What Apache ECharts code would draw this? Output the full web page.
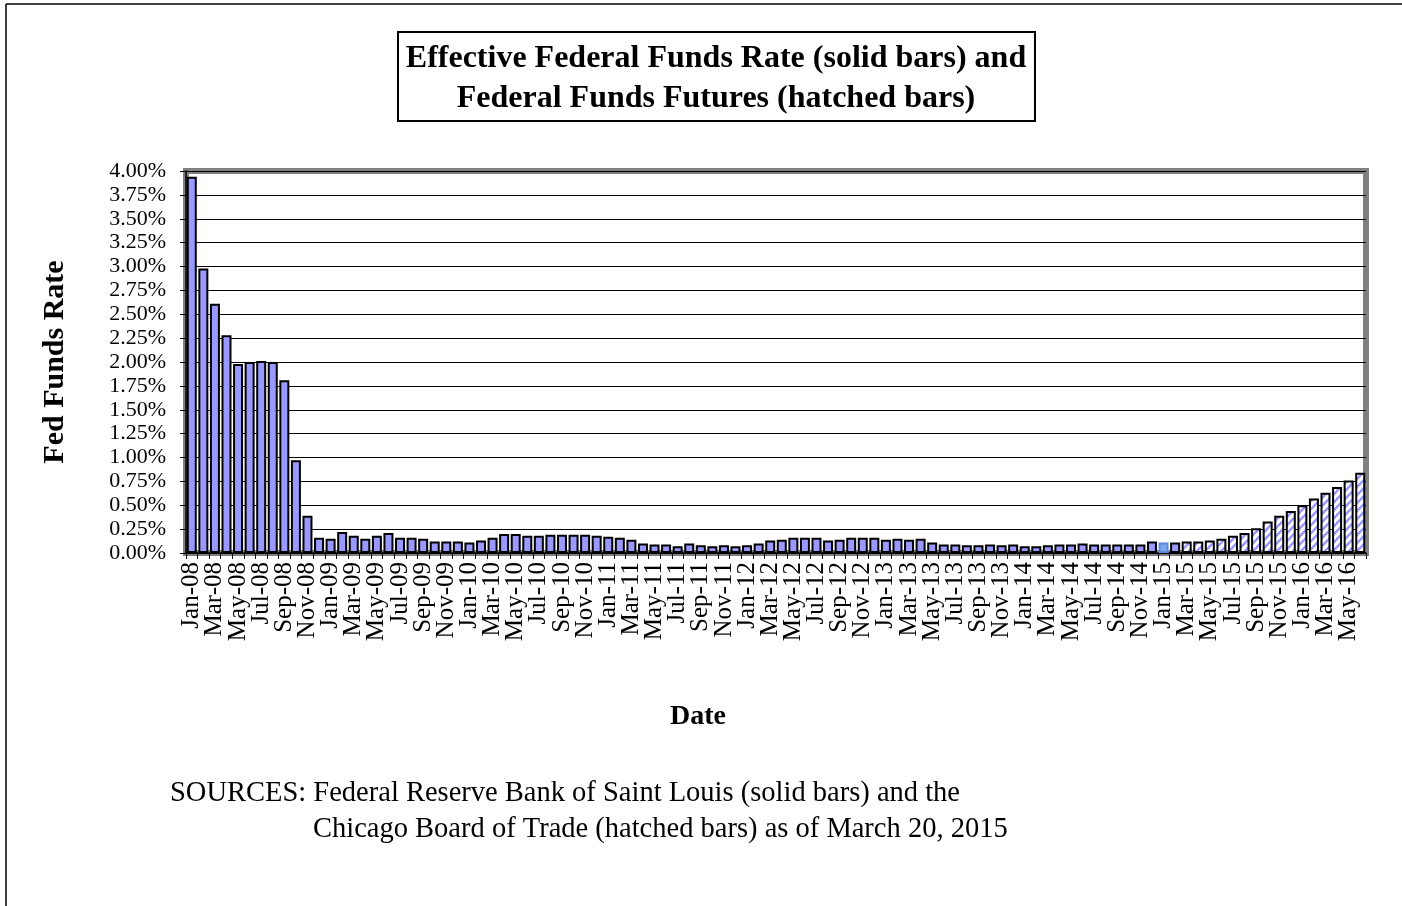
<!DOCTYPE html>
<html>
<head>
<meta charset="utf-8">
<script src="https://cdn.jsdelivr.net/npm/echarts@6/dist/echarts.min.js"></script>
<style>
html,body{margin:0;padding:0;background:#fff;}
#chart{width:1402px;height:906px;}
</style>
</head>
<body>
<div id="chart"></div>
<script>
// ---- data ----
const yearsShort = ['08','09','10','11','12','13','14','15','16'];
const monthNames = ['Jan','Feb','Mar','Apr','May','Jun','Jul','Aug','Sep','Oct','Nov','Dec'];
// Effective federal funds rate (solid bars), Jan-08 .. Feb-15, percent
const effr = [
  3.94, 2.98, 2.61, 2.28, 1.98, 2.00, 2.01, 2.00, 1.81, 0.97, 0.39, 0.16,
  0.15, 0.22, 0.18, 0.15, 0.18, 0.21, 0.16, 0.16, 0.15, 0.12, 0.12, 0.12,
  0.11, 0.13, 0.16, 0.20, 0.20, 0.18, 0.18, 0.19, 0.19, 0.19, 0.19, 0.18,
  0.17, 0.16, 0.14, 0.10, 0.09, 0.09, 0.07, 0.10, 0.08, 0.07, 0.08, 0.07,
  0.08, 0.10, 0.13, 0.14, 0.16, 0.16, 0.16, 0.13, 0.14, 0.16, 0.16, 0.16,
  0.14, 0.15, 0.14, 0.15, 0.11, 0.09, 0.09, 0.08, 0.08, 0.09, 0.08, 0.09,
  0.07, 0.07, 0.08, 0.09, 0.09, 0.10, 0.09, 0.09, 0.09, 0.09, 0.09, 0.12,
  0.11, 0.11
];
// Federal funds futures (hatched bars), Mar-15 .. Jun-16, percent
const futures = [0.12, 0.12, 0.13, 0.15, 0.18, 0.21, 0.26, 0.33, 0.39, 0.44, 0.50, 0.57, 0.63, 0.69, 0.76, 0.84];
const titleLines = ['Effective Federal Funds Rate (solid bars) and', 'Federal Funds Futures (hatched bars)'];
const xName = 'Date';
const yName = 'Fed Funds Rate';
const sourceLine1 = 'SOURCES: Federal Reserve Bank of Saint Louis (solid bars) and the';
const sourceLine2 = 'Chicago Board of Trade (hatched bars) as of March 20, 2015';

// category labels
const months = [];
for (const y of yearsShort) for (const m of monthNames) months.push(m + '-' + y);
const categories = months.slice(0, effr.length + futures.length);

// ---- styles ----
const FONT = "'Liberation Serif', 'Times New Roman', serif";
const BAR = '#9999FF';

const P = 8;
const pc = document.createElement('canvas');
pc.width = P; pc.height = P;
const pctx = pc.getContext('2d');
pctx.fillStyle = BAR; pctx.fillRect(0, 0, P, P);
pctx.strokeStyle = '#ffffff'; pctx.lineWidth = 3.2;
[[-P / 2, P / 2, P / 2, -P / 2], [0, P, P, 0], [P / 2, P * 1.5, P * 1.5, P / 2]].forEach(l => {
  pctx.beginPath(); pctx.moveTo(l[0], l[1]); pctx.lineTo(l[2], l[3]); pctx.stroke();
});
const hatch = { image: pc, repeat: 'repeat' };

const seriesData = effr.map((v, i) => {
  if (categories[i] === 'Jan-15') {
    return { value: v, itemStyle: { color: '#7FA7EE', borderColor: '#5A8AD8' } };
  }
  return { value: v };
}).concat(futures.map(v => ({ value: v, itemStyle: { color: hatch } })));

const chart = echarts.init(document.getElementById('chart'), null, { renderer: 'canvas' });
chart.setOption({
  animation: false,
  backgroundColor: '#ffffff',
  grid: {
    left: 186, right: 36, top: 171, bottom: 353,
    show: true, borderColor: '#808080', borderWidth: 6, backgroundColor: '#ffffff'
  },
  xAxis: {
    type: 'category',
    data: categories,
    axisLine: { show: true, lineStyle: { color: '#000', width: 1.5 } },
    axisTick: { show: true, interval: 0, length: 6, lineStyle: { color: '#000', width: 1 } },
    axisLabel: {
      interval: 0, rotate: 90, margin: 9,
      formatter: (v, i) => (i % 2 === 0 ? v : ''),
      fontFamily: FONT, fontSize: 25, color: '#000'
    },
    splitLine: { show: false }
  },
  yAxis: {
    type: 'value',
    min: 0, max: 4, interval: 0.25,
    name: yName,
    nameLocation: 'middle',
    nameGap: 116,
    nameRotate: 90,
    nameTextStyle: { fontFamily: FONT, fontWeight: 'bold', fontSize: 30, color: '#000' },
    axisLine: { show: true, lineStyle: { color: '#000', width: 1.5 } },
    axisTick: { show: true, length: 6, lineStyle: { color: '#000', width: 1 } },
    axisLabel: {
      margin: 20,
      fontFamily: FONT, fontSize: 22, color: '#000',
      formatter: v => v.toFixed(2) + '%'
    },
    splitLine: { show: true, lineStyle: { color: '#000', width: 1 } }
  },
  series: [{
    type: 'bar',
    data: seriesData,
    barWidth: 10,
    itemStyle: { color: BAR, borderColor: '#000', borderWidth: 2 }
  }],
  graphic: [
    { type: 'line', shape: { x1: 6, y1: 4, x2: 1402, y2: 4 }, style: { stroke: '#000', lineWidth: 1.5 } },
    { type: 'line', shape: { x1: 6, y1: 4, x2: 6, y2: 906 }, style: { stroke: '#000', lineWidth: 1.5 } },
    { type: 'rect', shape: { x: 398, y: 32, width: 637, height: 89 }, style: { fill: '#fff', stroke: '#000', lineWidth: 2 } },
    { type: 'text', x: 716, y: 59, style: { text: titleLines[0], font: 'bold 32px ' + FONT, fill: '#000', textAlign: 'center', textVerticalAlign: 'middle' } },
    { type: 'text', x: 716, y: 99, style: { text: titleLines[1], font: 'bold 32px ' + FONT, fill: '#000', textAlign: 'center', textVerticalAlign: 'middle' } },
    { type: 'text', x: 698, y: 717, style: { text: xName, font: 'bold 28px ' + FONT, fill: '#000', textAlign: 'center', textVerticalAlign: 'middle' } },
    { type: 'text', x: 170, y: 794, style: { text: sourceLine1, font: '28.5px ' + FONT, fill: '#000', textAlign: 'left', textVerticalAlign: 'middle' } },
    { type: 'text', x: 313, y: 830, style: { text: sourceLine2, font: '28.5px ' + FONT, fill: '#000', textAlign: 'left', textVerticalAlign: 'middle' } }
  ]
});
</script>
</body>
</html>
